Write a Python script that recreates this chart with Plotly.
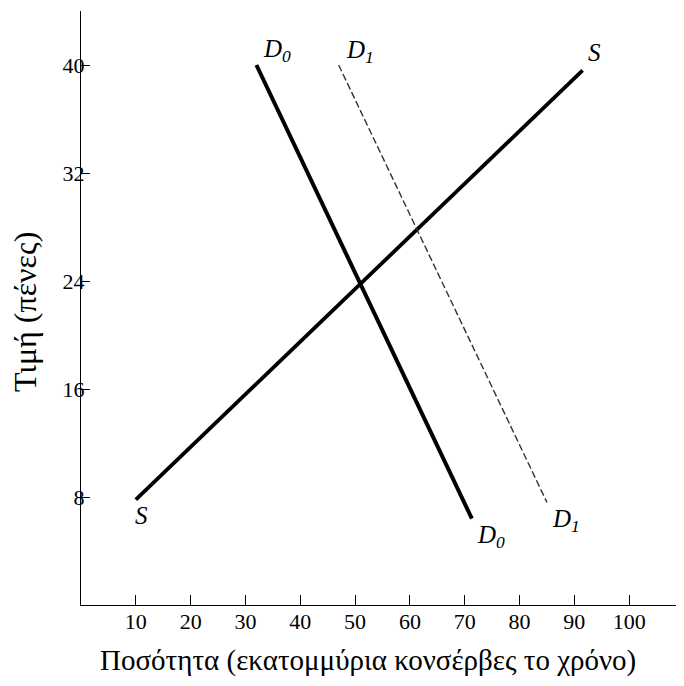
import plotly.graph_objects as go

# Data
s_x = [10, 91.5]
s_y = [7.8, 39.6]
d0_x = [32, 71.3]
d0_y = [40, 6.4]
d1_x = [47, 85]
d1_y = [40, 7.6]

x_ticks = [10, 20, 30, 40, 50, 60, 70, 80, 90, 100]
y_ticks = [8, 16, 24, 32, 40]

FONT = "Liberation Serif"

fig = go.Figure()
fig.add_trace(go.Scatter(x=s_x, y=s_y, mode="lines", line=dict(color="black", width=3.8), hoverinfo="skip"))
fig.add_trace(go.Scatter(x=d0_x, y=d0_y, mode="lines", line=dict(color="black", width=4), hoverinfo="skip"))
fig.add_trace(go.Scatter(x=d1_x, y=d1_y, mode="lines", line=dict(color="#333", width=1.4, dash="7px,3px"), hoverinfo="skip"))

lab = dict(font=dict(family=FONT, size=25, color="black"), showarrow=False, xref="x", yref="y")
# curve end labels
fig.add_annotation(x=d0_x[0], y=d0_y[0], text="<i>D<sub>0</sub></i>", xanchor="left", yanchor="bottom", xshift=5, yshift=-3, **lab)
fig.add_annotation(x=d1_x[0], y=d1_y[0], text="<i>D<sub>1</sub></i>", xanchor="left", yanchor="bottom", xshift=5, yshift=-4, **lab)
fig.add_annotation(x=s_x[1], y=s_y[1], text="<i>S</i>", xanchor="left", yanchor="bottom", xshift=3, yshift=2, **lab)
fig.add_annotation(x=s_x[0], y=s_y[0], text="<i>S</i>", xanchor="left", yanchor="top", xshift=-3, yshift=0, **lab)
fig.add_annotation(x=d0_x[1], y=d0_y[1], text="<i>D<sub>0</sub></i>", xanchor="left", yanchor="top", xshift=3, yshift=0, **lab)
fig.add_annotation(x=d1_x[1], y=d1_y[1], text="<i>D<sub>1</sub></i>", xanchor="left", yanchor="top", xshift=3, yshift=-1, **lab)

# axis titles
fig.add_annotation(text="Ποσότητα (εκατομμύρια κονσέρβες το χρόνο)", xref="paper", yref="paper",
                   x=0.476, y=-0.094, xanchor="center", yanchor="middle", showarrow=False,
                   font=dict(family=FONT, size=29, color="black"))
fig.add_annotation(text="Τιμή (πένες)", xref="paper", yref="paper", textangle=-90,
                   x=-0.093, y=0.493, xanchor="center", yanchor="middle", showarrow=False,
                   font=dict(family=FONT, size=32, color="black"))

fig.update_layout(
    width=684, height=686,
    margin=dict(l=73, r=8, t=3, b=89),
    paper_bgcolor="white", plot_bgcolor="white",
    showlegend=False,
    font=dict(family=FONT, size=22, color="black"),
)
fig.update_xaxes(range=[0, 110], tickvals=x_ticks, ticks="inside", ticklen=10, tickcolor="black",
                 showline=True, linecolor="black", linewidth=1.4, showgrid=False, zeroline=False,
                 ticklabelstandoff=-4,
                 tickfont=dict(family=FONT, size=22, color="black"))
fig.update_yaxes(range=[0, 44], tickvals=y_ticks, ticks="inside", ticklen=9, tickcolor="black",
                 showline=True, linecolor="black", linewidth=1.4, showgrid=False, zeroline=False,
                 ticklabelstandoff=-9,
                 tickfont=dict(family=FONT, size=22, color="black"))

fig.write_html("out.html")
